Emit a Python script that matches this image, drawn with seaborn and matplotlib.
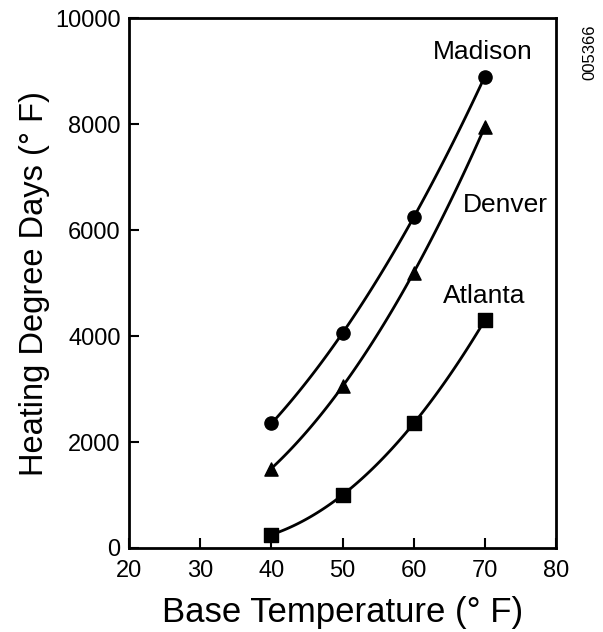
import numpy as np
import pandas as pd
import seaborn as sns
import matplotlib.pyplot as plt

base_temp = [40, 50, 60, 70]
madison = [2350, 4050, 6250, 8900]
denver = [1500, 3050, 5200, 7950]
atlanta = [250, 1000, 2350, 4300]

cities = ["Madison", "Denver", "Atlanta"]
markers = {"Madison": "o", "Denver": "^", "Atlanta": "s"}

df = pd.DataFrame({
    "temp": base_temp * 3,
    "hdd": madison + denver + atlanta,
    "city": [c for c in cities for _ in base_temp],
})

sns.set_style("ticks")
plt.rcParams["font.family"] = ["Liberation Sans", "DejaVu Sans"]
plt.rcParams["text.color"] = "black"

fig = plt.figure(figsize=(6.03, 6.32), dpi=100)
ax = fig.add_axes([0.214, 0.133, 0.708, 0.838])

for city in cities:
    sub = df[df.city == city]
    # smooth quadratic curve through the points, like the hand-drawn original
    sns.regplot(data=sub, x="temp", y="hdd", order=2, ci=None, ax=ax,
                marker=markers[city], color="black",
                scatter_kws={"s": 90, "alpha": 1, "zorder": 3},
                line_kws={"lw": 2})

ax.set_xlim(20, 80)
ax.set_ylim(0, 10000)
ax.set_xticks(range(20, 81, 10))
ax.set_yticks(range(0, 10001, 2000))
ax.tick_params(direction="in", length=7, width=1.5, labelsize=17, pad=6,
               colors="black")
ax.tick_params(axis="x", pad=9)
for s in ax.spines.values():
    s.set_linewidth(2)
    s.set_color("black")

ax.set_xlabel("Base Temperature (° F)", fontsize=25, labelpad=10, color="black")
ax.set_ylabel("Heating Degree Days (° F)", fontsize=23.5, labelpad=4, color="black")

ax.text(62.7, 9360, "Madison", fontsize=19, va="center")
ax.text(66.9, 6470, "Denver", fontsize=19, va="center")
ax.text(64.1, 4750, "Atlanta", fontsize=19, va="center")
fig.text(0.978, 0.918, "005366", rotation=90, fontsize=12, ha="center", va="center")

fig.savefig("out.png", dpi=100, facecolor="white")
